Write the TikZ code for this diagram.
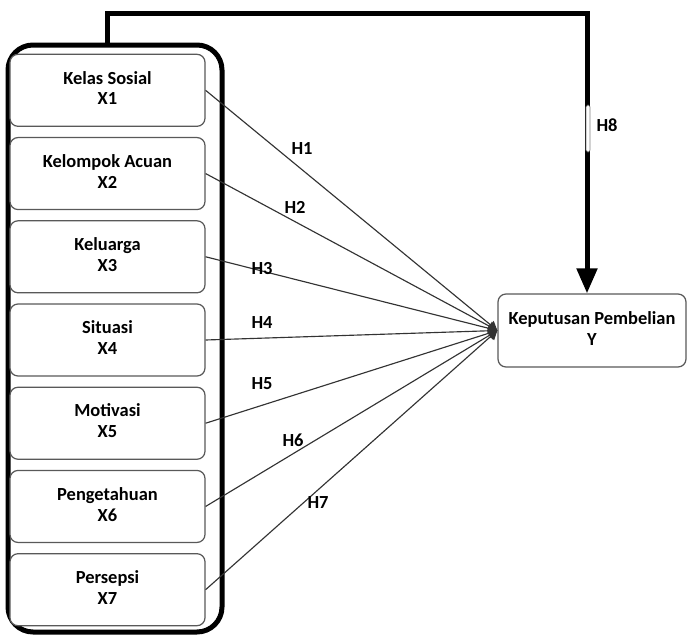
\documentclass[tikz,border=0pt]{standalone}
\usepackage{fontspec}
\setmainfont{Carlito}
\usetikzlibrary{shapes, arrows.meta, matrix, fit}

\newcommand{\twoline}[2]{\raisebox{-2pt}{\begin{tabular}{@{}c@{}}#1\\#2\end{tabular}}}
\renewcommand{\arraystretch}{0.95}

\begin{document}
\begin{tikzpicture}[
		font=\fontsize{10.5}{12.5}\selectfont\bfseries,
		every matrix/.style={row sep=0.2cm},
		every node/.style={anchor=center, font=\fontsize{10.5}{12.5}\selectfont\bfseries, inner sep=0},
		var/.style={draw=gray!70!black, line width=0.7pt, rounded corners=0.16cm, fill=white, minimum width=3.9cm, minimum height=1.44cm},
		group/.style={draw, line width=0.1cm, rounded corners=0.5cm, inner sep=0},
		to/.style={-{Triangle[width=0.2cm,length=0.18cm]}, line width=0.65pt, black!80},
		direct/.style={-{Triangle[width=0.4cm,length=0.5cm]}, line width=0.1cm},
		hyp/.style={}
		]
		
		\useasboundingbox (0,0) rectangle (13.74,-12.70);
		
		\node (grp) [group, fit={(0.16,-0.90) (4.44,-12.64)}] {};
		
		\matrix (xs) at (2.15,-6.80) [matrix of nodes, nodes={var}, ampersand replacement=\&]
		{
			|(x1)| \twoline{Kelas Sosial}{X1} \\
			|(x2)| \twoline{Kelompok Acuan}{X2} \\
			|(x3)| \twoline{Keluarga}{X3} \\
			|(x4)| \twoline{Situasi}{X4} \\
			|(x5)| \twoline{Motivasi}{X5} \\
			|(x6)| \twoline{Pengetahuan}{X6} \\
			|(x7)| \twoline{Persepsi}{X7} \\
		};
		
		\node (y) [var, minimum width=3.76cm, minimum height=1.46cm] at (11.84,-6.61) {\twoline{Keputusan Pembelian}{Y}};
		
		\foreach \i in {1,...,7}
			\draw[to] (x\i.east) -- (y.west);
		
		\draw[direct] ([xshift=-0.16cm]grp.north) -- ++(0,0.58) -| ([xshift=-0.10cm]y.north);
		\node (h8mark) [draw=gray, fill=white, line width=0.4pt, rounded corners=1pt, minimum width=0.08cm, minimum height=0.94cm] at (11.76,-2.57) {};
		
		\foreach \i/\x/\y in {1/6.04/-2.98, 2/5.90/-4.14, 3/5.24/-5.38, 4/5.24/-6.46, 5/5.24/-7.68, 6/5.86/-8.80, 7/6.36/-10.06, 8/12.14/-2.50}
			\node[hyp] (h\i) at (\x,\y) {H\i};
		
		\end{tikzpicture}
\end{document}
